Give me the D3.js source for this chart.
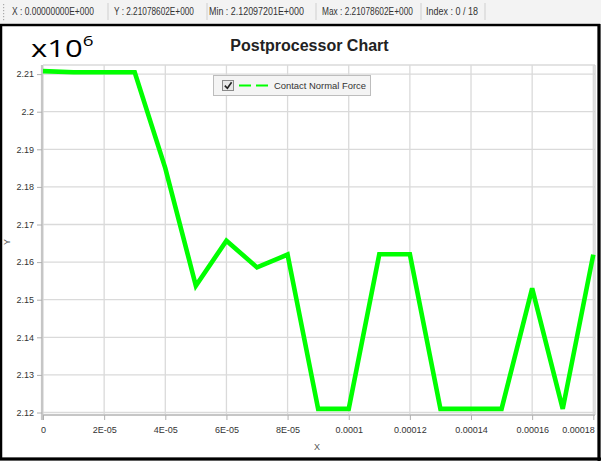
<!DOCTYPE html>
<html><head><meta charset="utf-8">
<script src="https://cdn.jsdelivr.net/npm/d3@7"></script>
<style>html,body{margin:0;padding:0;background:#fff;}svg{display:block;}</style>
</head><body>
<script>
// ---- data ----
const xValues = [0, 0.00001, 0.00002, 0.00003, 0.00004, 0.00005, 0.00006, 0.00007, 0.00008, 0.00009,
                 0.0001, 0.00011, 0.00012, 0.00013, 0.00014, 0.00015, 0.00016, 0.00017, 0.00018];
const forceValues = [2.21079, 2.2105, 2.2105, 2.2105, 2.1850, 2.1537, 2.1657, 2.1586, 2.1620, 2.12097,
                     2.12097, 2.1621, 2.1621, 2.12097, 2.12097, 2.12097, 2.1530, 2.12097, 2.1620];
const xTicks = [0, 0.00002, 0.00004, 0.00006, 0.00008, 0.0001, 0.00012, 0.00014, 0.00016, 0.00018];
const xTickLabels = ["0", "2E-05", "4E-05", "6E-05", "8E-05", "0.0001", "0.00012", "0.00014", "0.00016", "0.00018"];
const yTicks = [2.12, 2.13, 2.14, 2.15, 2.16, 2.17, 2.18, 2.19, 2.2, 2.21];
const yTickLabels = ["2.12", "2.13", "2.14", "2.15", "2.16", "2.17", "2.18", "2.19", "2.2", "2.21"];
const seriesName = "Contact Normal Force";
const statusItems = ["X : 0.00000000E+000", "Y : 2.21078602E+000", "Min : 2.12097201E+000", "Max : 2.21078602E+000", "Index : 0 / 18"];

// ---- layout ----
const W = 601, H = 461;
const plot = {left: 43, right: 595, top: 65, bottom: 415};
const svg = d3.select("body").append("svg").attr("width", W).attr("height", H);
const FONT = "'Liberation Sans', Arial, sans-serif";

// toolbar
svg.append("rect").attr("x", 0).attr("y", 0).attr("width", W).attr("height", 23).attr("fill", "#f3f3f3");
for (let i = 0; i < 6; i++) {
  svg.append("rect").attr("x", 3).attr("y", 4 + i * 3).attr("width", 1.2).attr("height", 1.2).attr("fill", "#aaa");
}
const statusX = [12, 114, 209, 322, 426];
const statusW = [82, 80, 95, 91, 52];
const sepX = [108, 207, 316, 421, 485];
statusItems.forEach((t, i) => {
  const tx = svg.append("text").attr("x", 0).attr("y", 0).attr("font-family", FONT).attr("font-size", 10.5)
    .attr("fill", "#333").text(t);
  const len = tx.node().getComputedTextLength();
  tx.attr("transform", `translate(${statusX[i]},15) scale(${statusW[i] / len},1)`);
});
sepX.forEach(x => svg.append("line").attr("x1", x).attr("x2", x).attr("y1", 3).attr("y2", 20)
  .attr("stroke", "#cfcfcf").attr("stroke-width", 1));

// frame border
svg.append("rect").attr("x", 1).attr("y", 25).attr("width", W - 3).attr("height", H - 27)
  .attr("fill", "none").attr("stroke", "#000").attr("stroke-width", 2.5);
svg.append("line").attr("x1", W - 2).attr("x2", W - 2).attr("y1", 24).attr("y2", H).attr("stroke", "#000").attr("stroke-width", 3);
svg.append("line").attr("x1", 0).attr("x2", W).attr("y1", H - 2).attr("y2", H - 2).attr("stroke", "#000").attr("stroke-width", 3);

// scales
const x = d3.scaleLinear().domain([0, 0.00018]).range([43, 593.3]);
const y = d3.scaleLinear().domain([2.12, 2.21]).range([412.5, 74.1]);

// grid
const grid = svg.append("g");
xTicks.forEach(v => grid.append("line").attr("x1", x(v)).attr("x2", x(v)).attr("y1", plot.top).attr("y2", plot.bottom)
  .attr("stroke", "#dadada").attr("stroke-width", 1.3));
yTicks.forEach(v => grid.append("line").attr("x1", plot.left).attr("x2", plot.right).attr("y1", y(v)).attr("y2", y(v))
  .attr("stroke", "#dadada").attr("stroke-width", 1.3));
grid.append("line").attr("x1", plot.left).attr("x2", plot.right).attr("y1", plot.top).attr("y2", plot.top)
  .attr("stroke", "#dadada").attr("stroke-width", 1.3);
grid.append("line").attr("x1", plot.right).attr("x2", plot.right).attr("y1", plot.top).attr("y2", plot.bottom)
  .attr("stroke", "#d0d0d0").attr("stroke-width", 1.3);

// axes
const yAxis = d3.axisLeft(y).tickValues(yTicks).tickFormat((d, i) => yTickLabels[i]).tickSize(5).tickPadding(3);
const gy = svg.append("g").attr("transform", `translate(${plot.left - 1},0)`).call(yAxis);
gy.select(".domain").attr("stroke", "#c6c6c6").attr("stroke-width", 2.2).attr("d", `M0,${plot.top}V${plot.bottom + 5}`);
gy.selectAll(".tick line").attr("stroke", "#b0b0b0");
gy.selectAll(".tick text").attr("font-family", FONT).attr("font-size", 9).attr("fill", "#333");

const xAxis = d3.axisBottom(x).tickValues(xTicks).tickFormat((d, i) => xTickLabels[i]).tickSize(5).tickPadding(7);
const gx = svg.append("g").attr("transform", `translate(0,${plot.bottom})`).call(xAxis);
gx.select(".domain").attr("stroke", "#c6c6c6").attr("stroke-width", 2.2).attr("d", `M${plot.left - 1},0H${plot.right}`);
gx.selectAll(".tick line").attr("stroke", "#b0b0b0");
gx.selectAll(".tick text").attr("font-family", FONT).attr("font-size", 9).attr("fill", "#333");
// last label is kept inside the plot edge, as in the reference
gx.selectAll(".tick text").filter((d, i) => i === xTicks.length - 1)
  .attr("text-anchor", "end").attr("dx", 1);

// axis titles
svg.append("text").attr("x", 317).attr("y", 450).attr("text-anchor", "middle").attr("font-family", FONT)
  .attr("font-size", 9).attr("fill", "#555").text("X");
svg.append("text").attr("transform", "translate(10,242) rotate(-90)").attr("text-anchor", "middle").attr("font-family", FONT)
  .attr("font-size", 9).attr("fill", "#555").text("Y");

// line
const line = d3.line().x((d, i) => x(xValues[i])).y(d => y(d));
svg.append("path").datum(forceValues).attr("d", line).attr("fill", "none")
  .attr("stroke", "#00ff00").attr("stroke-width", 4.6).attr("stroke-linejoin", "miter");

// title
svg.append("text").attr("x", 309.5).attr("y", 51).attr("text-anchor", "middle").attr("font-family", FONT)
  .attr("font-weight", "bold").attr("font-size", 16).attr("fill", "#222").text("Postprocessor Chart");

// multiplier
const mult = svg.append("text").attr("transform", "translate(31,57) scale(1.35,1)").attr("font-family", "'Open Sans', " + FONT)
  .attr("font-size", 23).attr("fill", "#000");
mult.append("tspan").text("x10");
mult.append("tspan").attr("dy", -11).attr("font-size", 14).text("6");

// legend
const lg = svg.append("g");
lg.append("rect").attr("x", 213.5).attr("y", 75.5).attr("width", 157).attr("height", 20)
  .attr("fill", "#f4f4f4").attr("stroke", "#bdbdbd").attr("stroke-width", 1);
lg.append("rect").attr("x", 222.5).attr("y", 80.5).attr("width", 11).attr("height", 10)
  .attr("fill", "#e8e8e8").attr("stroke", "#8a8a8a").attr("stroke-width", 1);
lg.append("path").attr("d", "M224.8,85.6 L227.4,88.3 L231.6,82.2").attr("fill", "none")
  .attr("stroke", "#222").attr("stroke-width", 1.6);
lg.append("line").attr("x1", 239).attr("x2", 269).attr("y1", 85.5).attr("y2", 85.5)
  .attr("stroke", "#00ff00").attr("stroke-width", 2.2).attr("stroke-dasharray", "12,5");
lg.append("text").attr("x", 274).attr("y", 89).attr("font-family", FONT).attr("font-size", 9.5)
  .attr("fill", "#333").attr("textLength", 92).attr("lengthAdjust", "spacingAndGlyphs").text(seriesName);
</script>
</body></html>
